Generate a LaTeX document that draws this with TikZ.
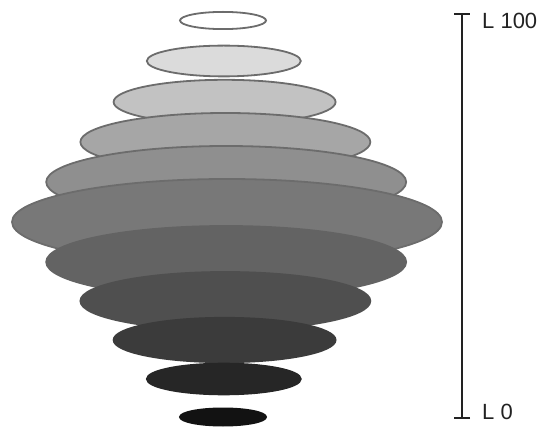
\documentclass[tikz,border=0pt]{standalone}
\usepackage{fontspec}
\setmainfont{Liberation Sans}
\usetikzlibrary{arrows.meta,positioning,shapes.geometric}
\definecolor{discline}{HTML}{6C6C6C}
\definecolor{barink}{HTML}{222222}

\begin{document}
\begin{tikzpicture}[x=1pt,y=-1pt,
    disc/.style={ellipse,inner sep=0pt,outer sep=0pt,line width=1.8pt},
    lbl/.style={anchor=west,inner sep=0pt,text=barink,font=\fontsize{22}{24}\selectfont}]
  \useasboundingbox (0,0) rectangle (549,430);
  % lightness slices, light on top, dark below
  \foreach \i/\y/\r/\k/\o in {0/20.5/43/0/discline,1/61/77/14/discline,2/102/111/24/discline,
      3/142/145/35/discline,4/182/180/44/discline,5/222/215/53/discline,
      6/262/180/61/black!61,7/301/145/69/black!69,8/340/111/77/black!77,
      9/379/77/85/black!85,10/417/43/93/black!93}
    \node[disc,draw=\o,fill=black!\k,minimum width={2*\r*1pt},minimum height={0.4*\r*1pt}]
      (d\i) at ({222+\r/43},\y) {};
  % scale
  \coordinate (top) at (462,13);
  \coordinate (bot) at (462,419);
  \draw[barink,line width=1.8pt,{Bar[width=16pt,line width=1.6pt]}-{Bar[width=16pt,line width=1.6pt]}] (top) -- (bot);
  \node[lbl] (hi) at (482,21) {L 100};
  \node[lbl] (lo) at (482,412) {L 0};
\end{tikzpicture}
\end{document}
